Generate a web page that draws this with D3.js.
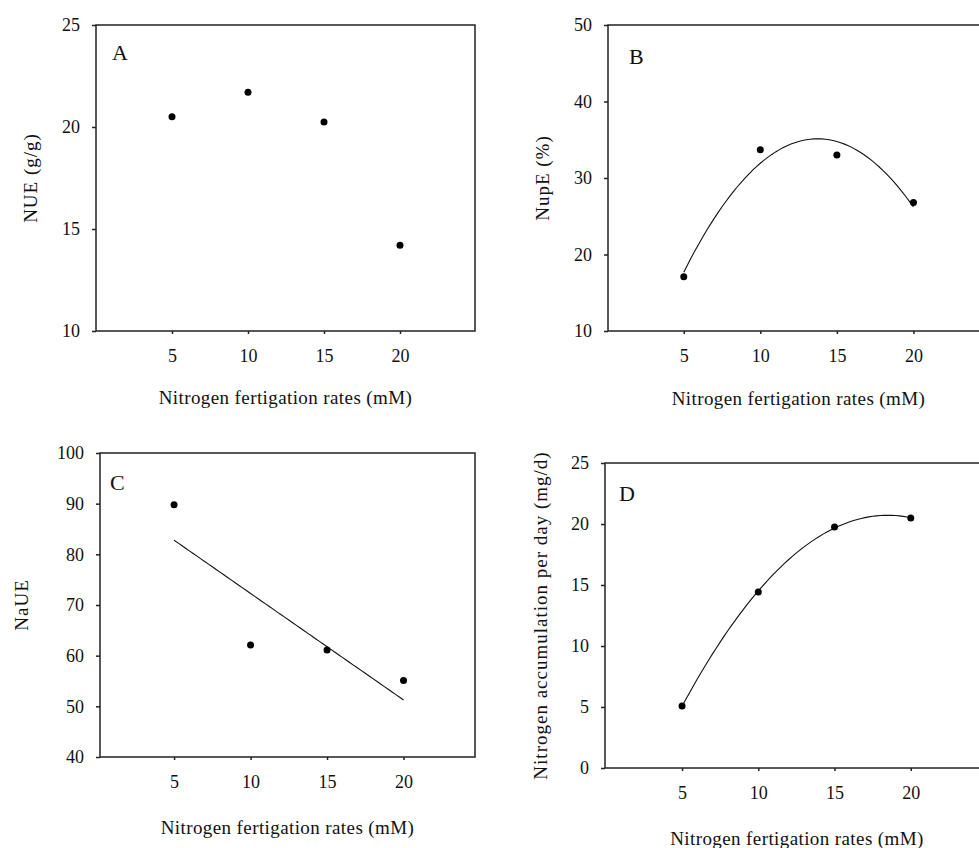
<!DOCTYPE html>
<html>
<head>
<meta charset="utf-8">
<script src="https://cdn.jsdelivr.net/npm/d3@7"></script>
<style>
  body { margin: 0; background: #fff; }
  text { font-family: "Liberation Serif", "Times New Roman", serif; fill: #111; }
</style>
</head>
<body>
<svg id="chart" width="979" height="848"></svg>
<script>
// fertigation rates (mM)
const rates = [5, 10, 15, 20];
const xTicks = [5, 10, 15, 20];

// panel values
const nue = [20.5, 21.7, 20.25, 14.2];
const nupe = [17.1, 33.7, 33.0, 26.8];
const naue = [89.8, 62.1, 61.1, 55.1];
const nAccum = [5.08, 14.43, 19.75, 20.49];

const nueTicks = [10, 15, 20, 25];
const nupeTicks = [10, 20, 30, 40, 50];
const naueTicks = [40, 50, 60, 70, 80, 90, 100];
const nAccumTicks = [0, 5, 10, 15, 20, 25];

const xLabel = "Nitrogen fertigation rates (mM)";

const svg = d3.select("#chart");

// least squares polynomial fit (degree 1 or 2) through the points
function polyFit(xs, ys, deg) {
    const n = deg + 1;
    const A = [];
    for (let i = 0; i < n; i++) {
        A.push(new Array(n + 1).fill(0));
        for (let j = 0; j < n; j++) {
            A[i][j] = d3.sum(xs, x => Math.pow(x, i + j));
        }
        A[i][n] = d3.sum(xs, (x, k) => Math.pow(x, i) * ys[k]);
    }
    // gaussian elimination
    for (let i = 0; i < n; i++) {
        for (let k = i + 1; k < n; k++) {
            const f = A[k][i] / A[i][i];
            for (let j = i; j <= n; j++) A[k][j] -= f * A[i][j];
        }
    }
    const c = new Array(n).fill(0);
    for (let i = n - 1; i >= 0; i--) {
        let s = A[i][n];
        for (let j = i + 1; j < n; j++) s -= A[i][j] * c[j];
        c[i] = s / A[i][i];
    }
    return x => c.reduce((acc, ci, i) => acc + ci * Math.pow(x, i), 0);
}

function drawPanel(p) {
    const g = svg.append("g");
    const x = d3.scaleLinear().domain([0, 25]).range([p.x0, p.x25]);
    const y = d3.scaleLinear().domain(p.yDomain).range([p.bottom, p.top]);

    // frame
    g.append("rect")
        .attr("x", p.left).attr("y", p.top)
        .attr("width", p.right - p.left).attr("height", p.bottom - p.top)
        .attr("fill", "none").attr("stroke", "#222").attr("stroke-width", 1.5);

    const yAxis = g.append("g")
        .attr("transform", `translate(${p.left},0)`)
        .call(d3.axisLeft(y).tickValues(p.yTicks).tickSize(4).tickPadding(12));
    const xAxis = g.append("g")
        .attr("transform", `translate(0,${p.bottom})`)
        .call(d3.axisBottom(x).tickValues(xTicks).tickSize(3).tickPadding(15));
    [yAxis, xAxis].forEach(a => {
        a.select(".domain").remove();
        a.selectAll("line").attr("stroke", "#222").attr("stroke-width", 1.5);
        a.selectAll("text").attr("font-size", 18)
            .attr("font-family", "Liberation Serif").attr("fill", "#111");
    });

    // fitted trend
    if (p.fit) {
        const f = polyFit(rates, p.values, p.fit);
        const pts = d3.range(5, 20.01, 0.25).map(v => [v, f(v)]);
        g.append("path")
            .datum(pts)
            .attr("d", d3.line().x(d => x(d[0])).y(d => y(d[1])))
            .attr("fill", "none").attr("stroke", "#111").attr("stroke-width", 1.1);
    }

    g.selectAll("circle.pt")
        .data(rates.map((r, i) => [r, p.values[i]]))
        .enter().append("circle")
        .attr("class", "pt")
        .attr("cx", d => x(d[0]))
        .attr("cy", d => y(d[1]))
        .attr("r", 3.5)
        .attr("fill", "#000");

    g.append("text")
        .attr("x", p.letterX).attr("y", p.letterY)
        .attr("font-size", 22)
        .text(p.letter);

    g.append("text")
        .attr("x", (p.left + p.right) / 2).attr("y", p.xLabelY)
        .attr("text-anchor", "middle")
        .attr("font-size", 19)
        .attr("letter-spacing", 0.4)
        .text(xLabel);

    g.append("text")
        .attr("transform", `translate(${p.yLabelX},${(p.top + p.bottom) / 2}) rotate(-90)`)
        .attr("text-anchor", "middle")
        .attr("font-size", 19)
        .attr("letter-spacing", 1)
        .text(p.yLabel);
}

const panels = [
    { letter: "A", values: nue, yDomain: [10, 25], yTicks: nueTicks, yLabel: "NUE (g/g)", fit: 0,
      left: 96, right: 475, top: 25, bottom: 331, x0: 96, x25: 476,
      letterX: 112, letterY: 60, xLabelY: 404, yLabelX: 37 },
    { letter: "B", values: nupe, yDomain: [10, 50], yTicks: nupeTicks, yLabel: "NupE (%)", fit: 2,
      left: 608, right: 989, top: 25, bottom: 331, x0: 607.2, x25: 990,
      letterX: 629, letterY: 64, xLabelY: 405, yLabelX: 549 },
    { letter: "C", values: naue, yDomain: [40, 100], yTicks: naueTicks, yLabel: "NaUE", fit: 1,
      left: 100, right: 475, top: 453, bottom: 757, x0: 97.6, x25: 480,
      letterX: 110, letterY: 490, xLabelY: 834, yLabelX: 28 },
    { letter: "D", values: nAccum, yDomain: [0, 25], yTicks: nAccumTicks, yLabel: "Nitrogen accumulation per day (mg/d)", fit: 2,
      left: 605, right: 989, top: 463, bottom: 768, x0: 605.8, x25: 987,
      letterX: 619, letterY: 501, xLabelY: 845, yLabelX: 547 }
];

panels.forEach(drawPanel);
</script>
</body>
</html>
